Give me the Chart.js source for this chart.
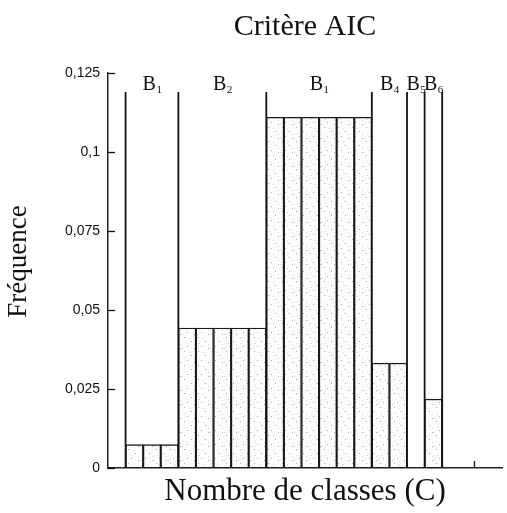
<!DOCTYPE html>
<html><head><meta charset="utf-8">
<script src="https://cdn.jsdelivr.net/npm/chart.js@4/dist/chart.umd.min.js"></script>
<style>html,body{margin:0;padding:0;background:#fff}#wrap{width:507px;height:513px}</style>
</head><body><div id="wrap"><canvas id="c" width="507" height="513"></canvas></div>
<script>
// ---- data ----
const titleText = 'Critère AIC';
const xTitle = 'Nombre de classes (C)';
const yTitle = 'Fréquence';
const groupLabels = ['B','B','B','B','B','B'];
const groupSubs = ['1','2','1','4','5','6'];
const groupSizes = [3,5,6,2,1,1];
const frequencies = [
  0.0074,0.0074,0.0074,
  0.0443,0.0443,0.0443,0.0443,0.0443,
  0.111,0.111,0.111,0.111,0.111,0.111,
  0.0332,0.0332,
  0,
  0.0218
];
const firstClass = 1;
const separatorTop = 0.119;
const yTicks = [0,0.025,0.05,0.075,0.1,0.125];
const yTickLabels = ['0','0,025','0,05','0,075','0,1','0,125'];
const xTicks = [20.8];
const xMax = 22.4;

// ---- derived ----
const barData = frequencies.map((v,i)=>({x:firstClass+i+0.5, y:v}));
const edges = [firstClass];
groupSizes.forEach(n=>edges.push(edges[edges.length-1]+n));
const sepData = [];
edges.forEach(e=>{sepData.push({x:e,y:0});sepData.push({x:e,y:separatorTop});sepData.push({x:e,y:null});});

// stipple pattern
function makePattern(){
  const t=document.createElement('canvas');t.width=14;t.height=14;
  const c=t.getContext('2d');c.fillStyle='#fcfcfc';c.fillRect(0,0,14,14);
  c.fillStyle='#a8a8a8';
  [[2,1],[9,5],[5,10],[12,12]].forEach(p=>c.fillRect(p[0],p[1],1,1));
  c.fillStyle='#d6d6d6';
  [[7,2],[3,7],[12,8],[0,12]].forEach(p=>c.fillRect(p[0],p[1],1,1));
  return document.getElementById('c').getContext('2d').createPattern(t,'repeat');
}

const serif = '"Liberation Serif","Times New Roman",serif';
const sans = '"Liberation Sans",Arial,sans-serif';

const decor = {
  id:'decor',
  afterDatasetsDraw(chart){
    const {ctx, scales:{x,y}, chartArea} = chart;
    ctx.save();
    ctx.strokeStyle='#111'; ctx.lineWidth=1.3;
    yTicks.forEach(v=>{
      const py=Math.round(y.getPixelForValue(v))+0.5;
      ctx.beginPath();ctx.moveTo(chartArea.left,py);ctx.lineTo(chartArea.left+7,py);ctx.stroke();
    });
    xTicks.forEach(v=>{
      const px=Math.round(x.getPixelForValue(v))+0.5;
      ctx.beginPath();ctx.moveTo(px,chartArea.bottom);ctx.lineTo(px,chartArea.bottom-7);ctx.stroke();
    });
    ctx.fillStyle='#111';ctx.textBaseline='alphabetic';ctx.textAlign='left';
    const baseY = chartArea.top+17;
    let start=firstClass;
    groupSizes.forEach((n,i)=>{
      const cx=x.getPixelForValue(start+n/2);
      ctx.font='20px '+serif; const w1=ctx.measureText(groupLabels[i]).width;
      ctx.font='11px '+serif; const w2=ctx.measureText(groupSubs[i]).width;
      const x0=cx-(w1+w2)/2;
      ctx.font='20px '+serif; ctx.fillText(groupLabels[i],x0,baseY);
      ctx.font='11px '+serif; ctx.fillText(groupSubs[i],x0+w1+0.5,baseY+3);
      start+=n;
    });
    // y axis title
    ctx.translate(19, (chartArea.top+chartArea.bottom)/2 - 9);
    ctx.rotate(-Math.PI/2);
    ctx.textAlign='center';ctx.textBaseline='middle';
    ctx.font='27px '+serif;
    ctx.fillText(yTitle,0,0);
    ctx.restore();
  }
};

new Chart(document.getElementById('c'),{
  type:'bar',
  data:{datasets:[
    {type:'line',data:sepData,borderColor:'#111',borderWidth:1.8,pointRadius:0,spanGaps:false,fill:false,order:0,tension:0},
    {type:'bar',data:barData,backgroundColor:makePattern(),borderColor:'#1a1a1a',borderWidth:1.4,borderSkipped:false,barPercentage:1,categoryPercentage:1,order:1}
  ]},
  plugins:[decor],
  options:{
    responsive:false,animation:false,
    layout:{padding:{left:0,right:5,top:0,bottom:0}},
    plugins:{
      legend:{display:false},tooltip:{enabled:false},
      title:{display:true,text:titleText,fullSize:false,color:'#111',font:{family:serif,size:30,weight:'normal'},padding:{top:9,bottom:28}}
    },
    scales:{
      x:{type:'linear',min:0,max:xMax,offset:false,
        grid:{display:false,drawTicks:false},
        border:{display:true,color:'#222',width:1.5},
        ticks:{display:false},
        title:{display:true,text:xTitle,color:'#111',font:{family:serif,size:31},padding:{top:3,bottom:3}},
        afterFit(s){s.height=45;}
      },
      y:{min:0,max:0.125,
        grid:{display:false,drawTicks:false},
        border:{display:true,color:'#222',width:1.5},
        afterBuildTicks(s){s.ticks=yTicks.map(v=>({value:v}));},
        ticks:{padding:8,color:'#111',font:{family:sans,size:14},callback:(v,i)=>yTickLabels[i]},
        title:{display:false},
        afterFit(s){s.width=108;}
      }
    }
  }
});
</script></body></html>
